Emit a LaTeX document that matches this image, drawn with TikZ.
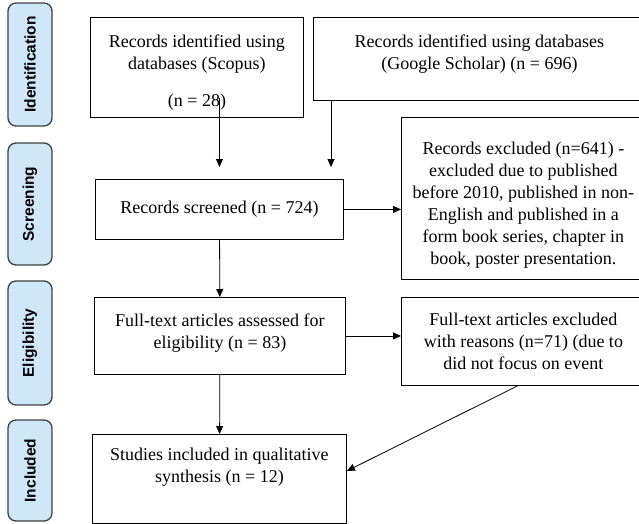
\documentclass[tikz,border=0pt]{standalone}
\usepackage{fontspec}
\setmainfont{Liberation Serif}
\setsansfont{Liberation Sans}
\usetikzlibrary{positioning,arrows.meta}
\definecolor{stagefill}{RGB}{207,231,247}

\begin{document}
\begin{tikzpicture}[x=1pt,y=-1pt,>={Triangle[length=8pt,width=7pt]},
		box/.style={draw,line width=0.9pt,align=center,anchor=north west,inner sep=2pt,font=\rmfamily\fontsize{18}{22}\selectfont},
		stage/.style={draw=black!75,line width=1.3pt,fill=stagefill,rounded corners=8pt,rotate=90,minimum height=44pt,font=\sffamily\bfseries\fontsize{15.5}{18}\selectfont},
		link/.style={->,line width=0.8pt}]
		\useasboundingbox (0,0) rectangle (639,524);
		\clip (0,0) rectangle (639,524);
		
		\node[stage,minimum width=123pt] (ident) at (30,64.5) {Identification};
		\node[stage,minimum width=122pt] (screen) at (30,204) {Screening};
		\node[stage,minimum width=124pt] (elig) at (30,343) {Eligibility};
		\node[stage,minimum width=101pt] (incl) at (30,470.5) {Included};
		
		\node[box,minimum width=213pt,minimum height=100pt] (scopus) at (90,17) {\rule{0pt}{23pt}Records identified using\\databases (Scopus)\\[15pt](n = 28)};
		\node[box,minimum width=332pt,minimum height=83pt] (scholar) at (313,17) {Records identified using databases\\(Google Scholar) (n = 696)\rule[-14pt]{0pt}{0pt}};
		\node[box,minimum width=248pt,minimum height=60pt] (screened) at (95,179) {Records screened (n = 724)};
		\node[box,minimum width=244pt,minimum height=162pt] (excl) at (401,117) {\rule{0pt}{25pt}Records excluded (n=641) -\\excluded due to published\\before 2010, published in non-\\English and published in a\\form book series, chapter in\\book, poster presentation.};
		\node[box,minimum width=251pt,minimum height=77pt] (fulltext) at (94,297) {Full-text articles assessed for\\eligibility (n = 83)\rule[-10pt]{0pt}{0pt}};
		\node[box,minimum width=244pt,minimum height=88pt] (ftexcl) at (401,297) {Full-text articles excluded\\with reasons (n=71) (due to\\did not focus on event};
		\node[box,minimum width=254pt,minimum height=89pt] (studies) at (92,434) {Studies included in qualitative\\synthesis (n = 12)\\[5pt]\mbox{}};
		
		\coordinate (t1) at ([yshift=12pt]screened.north);
		\coordinate (t2) at (331,167);
		
		\draw[link] ([yshift=20pt]scopus.south -| t1) -- (t1);
		\draw[link] (scholar.south -| t2) -- (t2);
		\draw[link] (screened) -- (screened -| excl.west);
		\draw[link] (screened) -- (fulltext);
		\draw[link] (fulltext) -- (fulltext -| ftexcl.west);
		\draw[link] (fulltext) -- (studies);
		\draw[link] ([xshift=-6pt]ftexcl.south) -- ([yshift=8pt]studies.east);
	\end{tikzpicture}
\end{document}
